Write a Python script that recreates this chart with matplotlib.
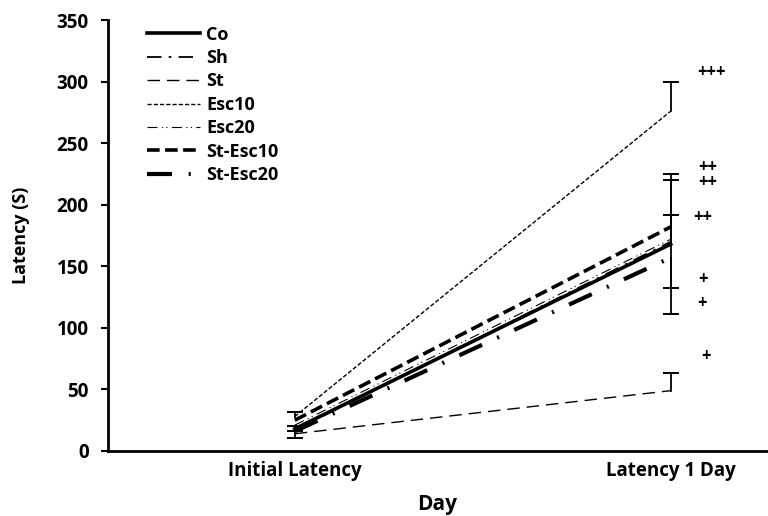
import matplotlib
matplotlib.use("Agg")
import matplotlib.pyplot as plt
import numpy as np

plt.rcParams['font.family'] = ['Open Sans', 'DejaVu Sans']
plt.rcParams['font.weight'] = 'bold'

days = ["Initial Latency", "Latency 1 Day"]
series = ["Co", "Sh", "St", "Esc10", "Esc20", "St-Esc10", "St-Esc20"]
co = [18, 168]
sh = [17, 170]
st = [14, 49]
esc10 = [28, 276]
esc20 = [21, 172]
st_esc10 = [25, 182]
st_esc20 = [16, 157]
values = [co, sh, st, esc10, esc20, st_esc10, st_esc20]
# error bar extents (lower, upper) at each day
err_lo = [[7.5, 57], [0, 0], [0, 0], [0, 0], [0, 0], [0, 0], [0, 25]]
err_hi = [[0, 57], [0, 50], [0, 14], [4, 24], [0, 20], [0, 0], [0, 0]]
init_caps = [20, 16]  # extra small caps seen at the initial point

sig_labels = ["+++", "++\n++", "++", "+", "+", "+"]
sig_y = [308, 224.5, 190, 140, 120, 77]
sig_x = [1.11, 1.10, 1.085, 1.085, 1.083, 1.093]

styles = {
    "Co": dict(ls='-', lw=2.6),
    "Sh": dict(ls=(0, (8, 4, 1.5, 4)), lw=1.3),
    "St": dict(ls=(0, (9, 5)), lw=1.0),
    "Esc10": dict(ls=(0, (3, 1.5)), lw=1.0),
    "Esc20": dict(ls=(0, (9, 4, 1, 3, 1, 4)), lw=0.8),
    "St-Esc10": dict(ls=(0, (3.5, 1.5)), lw=2.6),
    "St-Esc20": dict(ls=(0, (6, 4, 0.5, 4)), lw=3.0),
}

fig = plt.figure(figsize=(7.68, 5.16), dpi=100)
ax = fig.add_axes([0.1406, 0.126, 0.8594, 0.835])
x = np.arange(len(days))

for name, vals in zip(series, values):
    ax.plot(x, vals, color='black', label=name, **styles[name])

for name, vals, lo, hi in zip(series, values, err_lo, err_hi):
    for i in range(len(days)):
        if lo[i] > 0 or hi[i] > 0:
            y0 = vals[i] - lo[i]
            y1 = vals[i] + hi[i]
            ax.plot([x[i], x[i]], [y0, y1], color='black', lw=1.3)
            caps = []
            if lo[i] > 0:
                caps.append(y0)
            if hi[i] > 0:
                caps.append(y1)
            ax.plot([x[i]] * len(caps), caps, ls='none', marker='_',
                    ms=12, mew=1.4, color='black')
ax.plot([x[0]] * len(init_caps), init_caps, ls='none', marker='_',
        ms=12, mew=1.4, color='black')

for lbl, yy, xx in zip(sig_labels, sig_y, sig_x):
    ax.text(xx, yy, lbl, ha='center', va='center', fontsize=12,
            fontweight='bold', linespacing=0.8)

ax.set_xlim(-0.497, 1.259)
ax.set_ylim(0, 350)
ax.set_yticks(np.arange(0, 351, 50))
ax.set_xticks(x)
ax.set_xticklabels(days)
ax.tick_params(axis='both', labelsize=13.5, width=1.5)
ax.tick_params(axis='y', length=5, pad=9)
ax.tick_params(axis='x', length=0, pad=7)
for s in ['top', 'right']:
    ax.spines[s].set_visible(False)
for s in ['left', 'bottom']:
    ax.spines[s].set_linewidth(2)
ax.set_ylabel("Latency (S)", fontsize=13, fontweight='bold')
ax.yaxis.set_label_coords(-0.118, 0.5)
ax.set_xlabel("Day", fontsize=15, fontweight='bold')
ax.xaxis.set_label_coords(0.4985, -0.1)

leg = ax.legend(loc='upper left', bbox_to_anchor=(0.035, 1.025), frameon=False,
                fontsize=13, handlelength=2.9, handletextpad=0.35,
                labelspacing=0.3)

fig.savefig("out.png", dpi=100)
